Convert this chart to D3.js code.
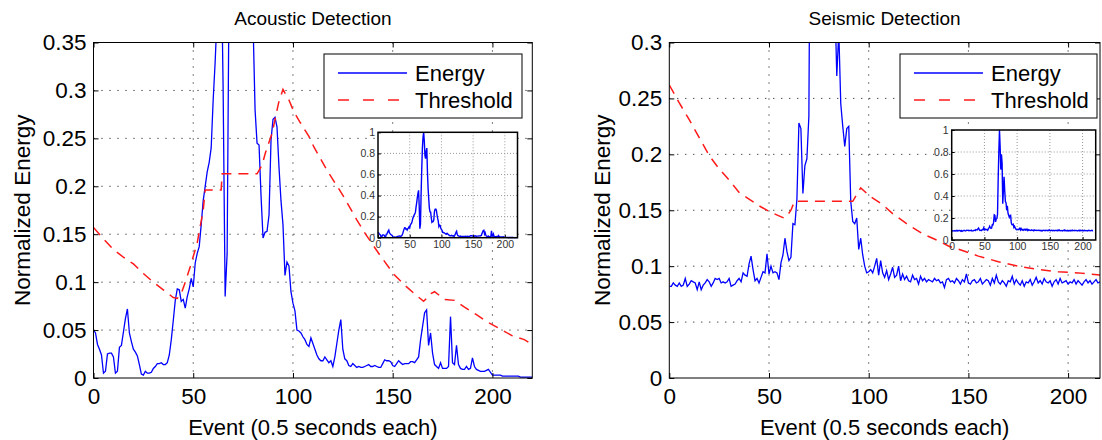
<!DOCTYPE html>
<html>
<head>
<meta charset="utf-8">
<script src="https://d3js.org/d3.v7.min.js"></script>
<style>
  body { margin: 0; background: #fff; }
  text { font-family: "Liberation Sans", Arial, Helvetica, sans-serif; }
</style>
</head>
<body>
<script>
// ---- data ----
const xTicks = [0, 50, 100, 150, 200];
const acousticYTicks = [0, 0.05, 0.1, 0.15, 0.2, 0.25, 0.3, 0.35];
const seismicYTicks = [0, 0.05, 0.1, 0.15, 0.2, 0.25, 0.3];
const insetYTicks = [0, 0.2, 0.4, 0.6, 0.8, 1];

// one value per event (event = index)
const acousticEnergy = [
  0.050, 0.047, 0.035, 0.030, 0.024, 0.005, 0.007, 0.025, 0.026, 0.026,
  0.022, 0.005, 0.007, 0.032, 0.034, 0.048, 0.062, 0.072, 0.047, 0.038,
  0.030, 0.027, 0.023, 0.014, 0.004, 0.003, 0.007, 0.005, 0.005, 0.006,
  0.010, 0.012, 0.015, 0.015, 0.016, 0.014, 0.014, 0.016, 0.024, 0.040,
  0.060, 0.081, 0.093, 0.092, 0.080, 0.082, 0.073, 0.085, 0.093, 0.104,
  0.095, 0.120, 0.130, 0.137, 0.160, 0.185, 0.200, 0.215, 0.225, 0.240,
  0.290, 0.330, 0.380, 0.420, 0.450, 0.300, 0.085, 0.130, 0.420, 0.650,
  0.850, 0.950, 1.000, 0.920, 0.780, 0.750, 0.820, 0.850, 0.620, 0.470,
  0.370, 0.280, 0.245, 0.243, 0.190, 0.146, 0.152, 0.153, 0.170, 0.248,
  0.270, 0.272, 0.262, 0.220, 0.185, 0.160, 0.107, 0.121, 0.117, 0.090,
  0.078, 0.070, 0.050, 0.049, 0.047, 0.043, 0.040, 0.035, 0.033, 0.042,
  0.036, 0.030, 0.024, 0.020, 0.018, 0.018, 0.022, 0.019, 0.016, 0.018,
  0.012, 0.022, 0.036, 0.050, 0.061, 0.030, 0.020, 0.018, 0.013, 0.012,
  0.015, 0.013, 0.011, 0.012, 0.011, 0.011, 0.012, 0.013, 0.014, 0.012,
  0.012, 0.013, 0.012, 0.011, 0.011, 0.015, 0.019, 0.018, 0.018, 0.017,
  0.013, 0.012, 0.015, 0.018, 0.016, 0.014, 0.015, 0.015, 0.015, 0.017,
  0.017, 0.016, 0.019, 0.022, 0.040, 0.054, 0.068, 0.071, 0.034, 0.047,
  0.026, 0.014, 0.012, 0.010, 0.016, 0.010, 0.010, 0.010, 0.012, 0.064,
  0.016, 0.014, 0.034, 0.014, 0.010, 0.009, 0.009, 0.012, 0.009, 0.010,
  0.021, 0.012, 0.009, 0.008, 0.007, 0.007, 0.007, 0.008, 0.009, 0.006,
  0.003, 0.003, 0.003, 0.003, 0.003, 0.002, 0.002, 0.002, 0.002, 0.002,
  0.002, 0.002, 0.002, 0.002, 0.001, 0.001, 0.001, 0.001, 0.001, 0.001,
  0.001
];
const acousticThrEvent = [0, 5, 10, 15, 20, 25, 30, 35, 40, 42, 44, 46, 48.5, 52, 55, 56, 64, 64.5, 82,
  84.5, 86.2, 89.5, 92.8, 95, 98, 100.4, 103.8, 108, 110.5, 117, 125.5, 132, 136.4, 144, 150.7,
  157, 162, 165.5, 167, 169, 171, 176, 181, 186, 192, 197, 204, 210, 216, 220];
const acousticThrValue = [0.157, 0.145, 0.134, 0.126, 0.119, 0.109, 0.100, 0.092, 0.084, 0.083, 0.088, 0.100, 0.116, 0.141, 0.175, 0.196, 0.196, 0.213, 0.213,
  0.222, 0.235, 0.255, 0.287, 0.301, 0.290, 0.278, 0.266, 0.252, 0.241, 0.217, 0.189, 0.165, 0.150, 0.127, 0.108,
  0.095, 0.086, 0.080, 0.083, 0.088, 0.090, 0.082, 0.081, 0.074, 0.066, 0.059, 0.051, 0.044, 0.040, 0.035];

const seismicEnergy = [
  0.082, 0.082, 0.085, 0.083, 0.082, 0.085, 0.082, 0.083, 0.089, 0.082,
  0.084, 0.087, 0.086, 0.085, 0.079, 0.086, 0.079, 0.083, 0.085, 0.088,
  0.086, 0.082, 0.085, 0.089, 0.088, 0.089, 0.085, 0.086, 0.085, 0.086,
  0.089, 0.082, 0.083, 0.084, 0.087, 0.089, 0.086, 0.094, 0.092, 0.091,
  0.102, 0.109, 0.097, 0.087, 0.089, 0.085, 0.090, 0.095, 0.094, 0.111,
  0.093, 0.100, 0.094, 0.095, 0.094, 0.088, 0.103, 0.110, 0.125, 0.113,
  0.105, 0.108, 0.138, 0.137, 0.160, 0.228, 0.223, 0.165, 0.190, 0.196,
  0.234, 0.550, 0.800, 1.000, 0.850, 0.640, 0.780, 0.700, 0.330, 0.450,
  0.575, 0.450, 0.350, 0.340, 0.270, 0.310, 0.245, 0.225, 0.207, 0.223,
  0.225, 0.158, 0.140, 0.138, 0.143, 0.115, 0.125, 0.110, 0.100, 0.094,
  0.095, 0.097, 0.094, 0.100, 0.107, 0.092, 0.105, 0.094, 0.090, 0.096,
  0.088, 0.093, 0.099, 0.090, 0.092, 0.100, 0.087, 0.093, 0.088, 0.091,
  0.087, 0.086, 0.092, 0.088, 0.089, 0.084, 0.091, 0.087, 0.089, 0.086,
  0.088, 0.087, 0.086, 0.089, 0.087, 0.088, 0.085, 0.086, 0.081, 0.088,
  0.089, 0.086, 0.087, 0.085, 0.089, 0.087, 0.084, 0.088, 0.086, 0.093,
  0.085, 0.084, 0.087, 0.088, 0.085, 0.086, 0.089, 0.084, 0.086, 0.088,
  0.087, 0.083, 0.089, 0.085, 0.092, 0.086, 0.084, 0.087, 0.085, 0.082,
  0.087, 0.086, 0.091, 0.084, 0.088, 0.085, 0.083, 0.087, 0.082, 0.086,
  0.085, 0.088, 0.083, 0.086, 0.090, 0.085, 0.087, 0.084, 0.089, 0.086,
  0.085, 0.087, 0.082, 0.086, 0.088, 0.084, 0.089, 0.085, 0.086, 0.087,
  0.084, 0.086, 0.085, 0.088, 0.084, 0.087, 0.085, 0.083, 0.086, 0.088,
  0.085, 0.087, 0.084, 0.086, 0.088, 0.085, 0.086
];
const seismicThrEvent = [0, 5, 10, 15, 20, 25, 30, 35, 40, 45, 50, 55, 57.5, 59, 61, 62.8, 92, 93, 96,
  101, 107, 112, 119, 127, 134.5, 140, 147, 155, 165, 175, 185, 195, 205, 216];
const seismicThrValue = [0.262, 0.246, 0.231, 0.215, 0.199, 0.187, 0.177, 0.166, 0.160, 0.154, 0.149, 0.145, 0.143, 0.145, 0.150, 0.158, 0.158, 0.161, 0.170,
  0.162, 0.155, 0.147, 0.138, 0.129, 0.123, 0.118, 0.114, 0.109, 0.104, 0.100, 0.097, 0.095, 0.094, 0.092];

// ---- drawing ----
const width = 1102, height = 440;
const svg = d3.select("body").append("svg")
  .attr("width", width)
  .attr("height", height)
  .style("background", "#fff");

const blue = "#0000ff", red = "#ff1a1a";
const fmt = d => String(d);

function gridLines(g, x, y, xs, ys, x0, x1, y0, y1, color, dash) {
  g.selectAll(".gx").data(xs).join("line")
    .attr("x1", d => x(d)).attr("x2", d => x(d)).attr("y1", y0).attr("y2", y1)
    .attr("stroke", color).attr("stroke-width", 1).attr("stroke-dasharray", dash);
  g.selectAll(".gy").data(ys).join("line")
    .attr("x1", x0).attr("x2", x1).attr("y1", d => y(d)).attr("y2", d => y(d))
    .attr("stroke", color).attr("stroke-width", 1).attr("stroke-dasharray", dash);
}

function styleAxis(g, size, color) {
  g.select(".domain").remove();
  g.attr("font-family", null).attr("font-size", size);
  g.selectAll("line").attr("stroke", "#000");
  g.selectAll("text").attr("fill", color);
}

function drawPanel(p) {
  const x = d3.scaleLinear([0, p.xMax], [p.left, p.right]);
  const y = d3.scaleLinear([0, p.yMax], [p.bottom, p.top]);
  const g = svg.append("g");

  svg.append("clipPath").attr("id", "clip-" + p.id).append("rect")
    .attr("x", p.left).attr("y", p.top)
    .attr("width", p.right - p.left).attr("height", p.bottom - p.top);

  // dotted grid
  gridLines(g.append("g"), x, y,
    xTicks.filter(t => t > 0 && t < p.xMax), p.yTicks.filter(t => t > 0 && t < p.yMax),
    p.left, p.right, p.top, p.bottom, "#000", "1,7");

  const plot = g.append("g").attr("clip-path", `url(#clip-${p.id})`);
  plot.append("path").datum(p.energy)
    .attr("fill", "none").attr("stroke", blue).attr("stroke-width", 1.3)
    .attr("d", d3.line().x((d, i) => x(i)).y(d => y(d)));
  plot.append("path").datum(d3.zip(p.thrEvent, p.thrValue))
    .attr("fill", "none").attr("stroke", red).attr("stroke-width", 1.5)
    .attr("stroke-dasharray", "10,7")
    .attr("d", d3.line().x(d => x(d[0])).y(d => y(d[1])));

  // axes, ticks pointing inward
  g.append("g").attr("transform", `translate(0,${p.bottom})`)
    .call(d3.axisBottom(x).tickValues(xTicks).tickSizeInner(-5).tickSizeOuter(0).tickPadding(10).tickFormat(fmt))
    .call(a => styleAxis(a, 22.5, "#000"));
  g.append("g").attr("transform", `translate(${p.left},0)`)
    .call(d3.axisLeft(y).tickValues(p.yTicks).tickSizeInner(-5).tickSizeOuter(0).tickPadding(7).tickFormat(fmt))
    .call(a => styleAxis(a, 22.5, "#000"));
  g.append("g").attr("transform", `translate(0,${p.top})`)
    .call(d3.axisTop(x).tickValues(xTicks).tickSizeInner(-5).tickSizeOuter(0).tickFormat(""))
    .call(a => styleAxis(a, 22, "#000"));
  g.append("g").attr("transform", `translate(${p.right},0)`)
    .call(d3.axisRight(y).tickValues(p.yTicks).tickSizeInner(-5).tickSizeOuter(0).tickFormat(""))
    .call(a => styleAxis(a, 22, "#000"));

  g.append("rect")
    .attr("x", p.left).attr("y", p.top)
    .attr("width", p.right - p.left).attr("height", p.bottom - p.top)
    .attr("fill", "none").attr("stroke", "#000").attr("stroke-width", 1);

  const cx = (p.left + p.right) / 2;
  g.append("text").attr("x", cx).attr("y", 25).attr("text-anchor", "middle")
    .attr("font-size", 19).text(p.title);
  g.append("text").attr("x", cx).attr("y", 435).attr("text-anchor", "middle")
    .attr("font-size", 22).text("Event (0.5 seconds each)");
  g.append("text")
    .attr("transform", `translate(${p.yLabelX},${(p.top + p.bottom) / 2}) rotate(-90)`)
    .attr("text-anchor", "middle").attr("dy", "0.35em")
    .attr("font-size", 22.5).text("Normalized Energy");

  // legend
  const L = p.legend;
  const lg = g.append("g");
  lg.append("rect").attr("x", L.x).attr("y", L.y).attr("width", L.w).attr("height", L.h)
    .attr("fill", "#fff").attr("stroke", "#000").attr("stroke-width", 1);
  lg.append("line").attr("x1", L.x + 14).attr("x2", L.x + 83).attr("y1", L.y + 19).attr("y2", L.y + 19)
    .attr("stroke", blue).attr("stroke-width", 1.3);
  lg.append("line").attr("x1", L.x + 14).attr("x2", L.x + 83).attr("y1", L.y + 46).attr("y2", L.y + 46)
    .attr("stroke", red).attr("stroke-width", 1.5).attr("stroke-dasharray", "11,14");
  lg.append("text").attr("x", L.x + 91).attr("y", L.y + 19).attr("dy", "0.35em")
    .attr("font-size", 22).text("Energy");
  lg.append("text").attr("x", L.x + 91).attr("y", L.y + 46).attr("dy", "0.35em")
    .attr("font-size", 22).text("Threshold");

  // inset with the full 0..1 range
  const I = p.inset;
  const ix = d3.scaleLinear([0, 220], [I.left, I.right]);
  const iy = d3.scaleLinear([0, 1], [I.bottom, I.top]);
  const ig = g.append("g");
  ig.append("rect").attr("x", I.left).attr("y", I.top)
    .attr("width", I.right - I.left).attr("height", I.bottom - I.top).attr("fill", "#fff");
  gridLines(ig.append("g"), ix, iy, [50, 100, 150, 200], [0.2, 0.4, 0.6, 0.8],
    I.left, I.right, I.top, I.bottom, "#999", "1,2");
  ig.append("path").datum(p.energy)
    .attr("fill", "none").attr("stroke", blue).attr("stroke-width", 1.4)
    .attr("d", d3.line().x((d, i) => ix(i)).y(d => iy(d)));
  ig.append("g").attr("transform", `translate(0,${I.bottom})`)
    .call(d3.axisBottom(ix).tickValues(xTicks).tickSizeInner(-3).tickSizeOuter(0).tickPadding(3).tickFormat(fmt))
    .call(a => styleAxis(a, 10.5, "#333"));
  ig.append("g").attr("transform", `translate(${I.left},0)`)
    .call(d3.axisLeft(iy).tickValues(insetYTicks).tickSizeInner(-3).tickSizeOuter(0).tickPadding(3).tickFormat(fmt))
    .call(a => styleAxis(a, 10.5, "#333"));
  ig.append("rect").attr("x", I.left).attr("y", I.top)
    .attr("width", I.right - I.left).attr("height", I.bottom - I.top)
    .attr("fill", "none").attr("stroke", "#000").attr("stroke-width", 1.5);
}

drawPanel({
  id: "acoustic", title: "Acoustic Detection",
  left: 93.5, right: 532.3, top: 42.5, bottom: 378, yLabelX: 22,
  xMax: 220, yMax: 0.35, yTicks: acousticYTicks,
  energy: acousticEnergy, thrEvent: acousticThrEvent, thrValue: acousticThrValue,
  legend: { x: 324, y: 54, w: 198, h: 64 },
  inset: { left: 378, right: 517.5, top: 132.3, bottom: 237.7 }
});

drawPanel({
  id: "seismic", title: "Seismic Detection",
  left: 669.3, right: 1100, top: 42.5, bottom: 378, yLabelX: 602,
  xMax: 216, yMax: 0.3, yTicks: seismicYTicks,
  energy: seismicEnergy, thrEvent: seismicThrEvent, thrValue: seismicThrValue,
  legend: { x: 900, y: 54, w: 197, h: 64 },
  inset: { left: 951.7, right: 1095.7, top: 130, bottom: 240 }
});
</script>
</body>
</html>
